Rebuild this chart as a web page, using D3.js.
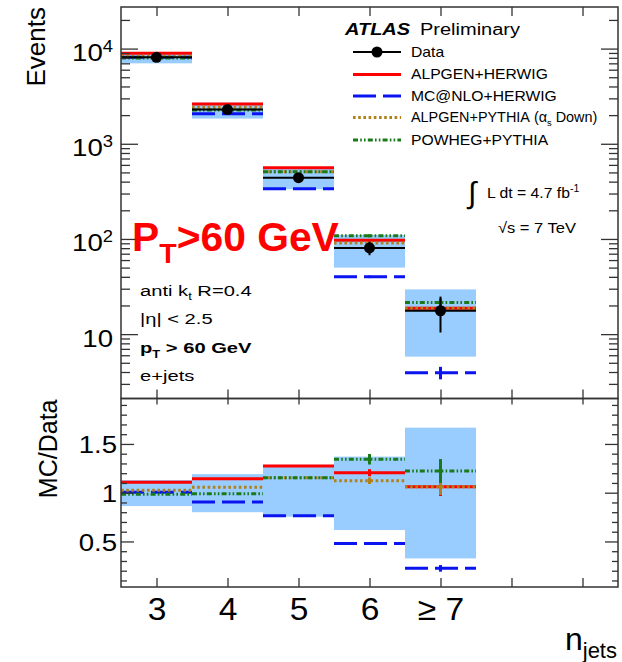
<!DOCTYPE html>
<html>
<head>
<meta charset="utf-8">
<script src="https://cdn.jsdelivr.net/npm/d3@7"></script>
<style>
  body { margin: 0; background: #fff; }
  text { font-family: "Liberation Sans", Arial, sans-serif; fill: #000; }
  .axis path { display: none; }
  .axis line { stroke: #333; stroke-width: 1.3; }
</style>
</head>
<body>
<script>
// ---- values ----
var nJets = [3, 4, 5, 6, 7];
var binLabels = ["3", "4", "5", "6", "\u2265 7"];
var xTicks = [3, 4, 5, 6, 7, 8, 9];

// upper panel: events per bin
var dataEvents = [8100, 2290, 440, 80.5, 17.6];
var dataErr = [90, 48, 21, 13, 7.2];
var systHi = [9150, 2700, 565, 110, 29.5];
var systLo = [7000, 1840, 333, 50, 5.8];
var alpgenHerwig = [8960, 2620, 561, 97, 18.7];
var mcatnloHerwig = [8130, 2070, 336, 40, 3.94];
var alpgenPythia = [8300, 2415, 508, 90.4, 18.7];
var powhegPythia = [7970, 2270, 508, 108, 21.5];

// lower panel: MC/Data
var ratioSystHi = [1.13, 1.19, 1.285, 1.37, 1.667];
var ratioSystLo = [0.863, 0.80, 0.754, 0.617, 0.326];
var ratioAlpgenHerwig = [1.106, 1.144, 1.274, 1.205, 1.062];
var ratioMcatnloHerwig = [1.004, 0.905, 0.764, 0.48, 0.224];
var ratioAlpgenPythia = [1.025, 1.055, 1.154, 1.123, 1.062];
var ratioPowhegPythia = [0.984, 0.99, 1.154, 1.343, 1.223];

// relative MC stat. errors (only visible in the last bins)
var errAlpgenHerwig = [0, 0, 0, 0.03, 0.09];
var errMcatnloHerwig = [0, 0, 0, 0.03, 0.15];
var errAlpgenPythia = [0, 0, 0, 0.03, 0.08];
var errPowhegPythia = [0, 0, 0, 0.04, 0.1];

// axis ticks
var upperMajor = [10, 100, 1000, 10000];
var upperMajorExp = [1, 2, 3, 4];
var upperMinor = [3, 4, 5, 6, 7, 8, 9, 20, 30, 40, 50, 60, 70, 80, 90,
  200, 300, 400, 500, 600, 700, 800, 900, 2000, 3000, 4000, 5000, 6000, 7000, 8000, 9000, 20000];
var lowerMajor = [0.5, 1, 1.5];
var lowerMajorLabels = ["0.5", "1", "1.5"];
var lowerMinor = [0.1, 0.2, 0.3, 0.4, 0.6, 0.7, 0.8, 0.9, 1.1, 1.2, 1.3, 1.4, 1.6, 1.7, 1.8, 1.9];

// ---- layout ----
var svgWidth = 622;
var svgHeight = 662;
var frame = { left: 121, right: 618, top: 7, mid: 398.5, bottom: 587 };

var svg = d3.select("body")
  .append("svg")
  .attr("width", svgWidth)
  .attr("height", svgHeight);

var xScale = d3.scaleLinear().domain([2.5, 9.5]).range([frame.left, frame.right]);
var yUpper = d3.scaleLog().domain([2.107, 27350]).range([frame.mid, frame.top]);
var yLower = d3.scaleLinear().domain([0.033, 1.966]).range([frame.bottom, frame.mid]);

// stretch text horizontally around its anchor point
function stretch(sel, sx) {
  sel.each(function() {
    var t = d3.select(this);
    var x = +t.attr("x") || 0;
    var y = +t.attr("y") || 0;
    t.attr("transform", `translate(${x},${y}) scale(${sx},1) translate(${-x},${-y})`);
  });
}

var series = [
  { name: "ALPGEN+HERWIG", up: alpgenHerwig, ratio: ratioAlpgenHerwig, err: errAlpgenHerwig, color: "#ff0000", dash: null },
  { name: "MC@NLO+HERWIG", up: mcatnloHerwig, ratio: ratioMcatnloHerwig, err: errMcatnloHerwig, color: "#0a14f0", dash: "23,7" },
  { name: "ALPGEN+PYTHIA", up: alpgenPythia, ratio: ratioAlpgenPythia, err: errAlpgenPythia, color: "#b0801a", dash: "2.6,2.6" },
  { name: "POWHEG+PYTHIA", up: powhegPythia, ratio: ratioPowhegPythia, err: errPowhegPythia, color: "#1a7a1a", dash: "5,2.2,1.6,2.2,1.6,2.2" }
];

var bins = nJets.map(function(n, i) { return { n: n, i: i }; });

// ---- upper panel ----
var upper = svg.append("g");

upper.selectAll("rect.syst")
  .data(bins)
  .enter()
  .append("rect")
  .attr("x", d => xScale(d.n - 0.5))
  .attr("width", d => xScale(d.n + 0.5) - xScale(d.n - 0.5))
  .attr("y", d => yUpper(systHi[d.i]))
  .attr("height", d => yUpper(systLo[d.i]) - yUpper(systHi[d.i]))
  .attr("fill", "#99ccff");

series.forEach(function(s) {
  upper.selectAll(null)
    .data(bins)
    .enter()
    .append("line")
    .attr("x1", d => xScale(d.n - 0.5))
    .attr("x2", d => xScale(d.n + 0.5))
    .attr("y1", d => yUpper(s.up[d.i]))
    .attr("y2", d => yUpper(s.up[d.i]))
    .attr("stroke", s.color)
    .attr("stroke-width", 3)
    .attr("stroke-dasharray", s.dash);
  upper.selectAll(null)
    .data(bins.filter(d => s.err[d.i] > 0))
    .enter()
    .append("line")
    .attr("x1", d => xScale(d.n))
    .attr("x2", d => xScale(d.n))
    .attr("y1", d => yUpper(s.up[d.i] * (1 + s.err[d.i])))
    .attr("y2", d => yUpper(s.up[d.i] * (1 - s.err[d.i])))
    .attr("stroke", s.color)
    .attr("stroke-width", 3);
});

// data: line across bin, error bar, marker
upper.selectAll("line.dataLine")
  .data(bins)
  .enter()
  .append("line")
  .attr("x1", d => xScale(d.n - 0.5))
  .attr("x2", d => xScale(d.n + 0.5))
  .attr("y1", d => yUpper(dataEvents[d.i]))
  .attr("y2", d => yUpper(dataEvents[d.i]))
  .attr("stroke", "#000")
  .attr("stroke-width", 2);
upper.selectAll("line.dataErr")
  .data(bins)
  .enter()
  .append("line")
  .attr("x1", d => xScale(d.n))
  .attr("x2", d => xScale(d.n))
  .attr("y1", d => yUpper(dataEvents[d.i] + dataErr[d.i]))
  .attr("y2", d => yUpper(dataEvents[d.i] - dataErr[d.i]))
  .attr("stroke", "#000")
  .attr("stroke-width", 2);
upper.selectAll("circle")
  .data(bins)
  .enter()
  .append("circle")
  .attr("cx", d => xScale(d.n))
  .attr("cy", d => yUpper(dataEvents[d.i]))
  .attr("r", 5.5)
  .attr("fill", "#000");

// ---- lower panel ----
var lower = svg.append("g");

lower.selectAll("rect")
  .data(bins)
  .enter()
  .append("rect")
  .attr("x", d => xScale(d.n - 0.5))
  .attr("width", d => xScale(d.n + 0.5) - xScale(d.n - 0.5))
  .attr("y", d => yLower(ratioSystHi[d.i]))
  .attr("height", d => yLower(ratioSystLo[d.i]) - yLower(ratioSystHi[d.i]))
  .attr("fill", "#99ccff");

series.forEach(function(s) {
  lower.selectAll(null)
    .data(bins)
    .enter()
    .append("line")
    .attr("x1", d => xScale(d.n - 0.5))
    .attr("x2", d => xScale(d.n + 0.5))
    .attr("y1", d => yLower(s.ratio[d.i]))
    .attr("y2", d => yLower(s.ratio[d.i]))
    .attr("stroke", s.color)
    .attr("stroke-width", 3)
    .attr("stroke-dasharray", s.dash);
  lower.selectAll(null)
    .data(bins.filter(d => s.err[d.i] > 0))
    .enter()
    .append("line")
    .attr("x1", d => xScale(d.n))
    .attr("x2", d => xScale(d.n))
    .attr("y1", d => yLower(s.ratio[d.i] * (1 + s.err[d.i])))
    .attr("y2", d => yLower(s.ratio[d.i] * (1 - s.err[d.i])))
    .attr("stroke", s.color)
    .attr("stroke-width", 3);
});

// ---- axes (ROOT style, ticks inside on all four sides) ----
function addAxis(axis, tx, ty) {
  return svg.append("g")
    .attr("class", "axis")
    .attr("transform", `translate(${tx},${ty})`)
    .call(axis);
}

// upper y
addAxis(d3.axisLeft(yUpper).tickValues(upperMajor).tickSize(-17).tickFormat(""), frame.left, 0);
addAxis(d3.axisLeft(yUpper).tickValues(upperMinor).tickSize(-9).tickFormat(""), frame.left, 0);
addAxis(d3.axisRight(yUpper).tickValues(upperMajor).tickSize(-17).tickFormat(""), frame.right, 0);
addAxis(d3.axisRight(yUpper).tickValues(upperMinor).tickSize(-9).tickFormat(""), frame.right, 0);
// upper x
addAxis(d3.axisTop(xScale).tickValues(xTicks).tickSize(-9).tickFormat(""), 0, frame.top);
addAxis(d3.axisBottom(xScale).tickValues(xTicks).tickSize(-9).tickFormat(""), 0, frame.mid);

// lower y
var lowerLeft = addAxis(d3.axisLeft(yLower).tickValues(lowerMajor).tickSize(-13).tickPadding(4)
  .tickFormat((d, i) => lowerMajorLabels[i]), frame.left, 0);
addAxis(d3.axisLeft(yLower).tickValues(lowerMinor).tickSize(-6).tickFormat(""), frame.left, 0);
addAxis(d3.axisRight(yLower).tickValues(lowerMajor).tickSize(-13).tickFormat(""), frame.right, 0);
addAxis(d3.axisRight(yLower).tickValues(lowerMinor).tickSize(-6).tickFormat(""), frame.right, 0);
// lower x
addAxis(d3.axisTop(xScale).tickValues(xTicks).tickSize(-6).tickFormat(""), 0, frame.mid);
var lowerBottom = addAxis(d3.axisBottom(xScale).tickValues(xTicks).tickSize(-9).tickPadding(10)
  .tickFormat(d => d <= 7 ? binLabels[d - 3] : ""), 0, frame.bottom);

lowerLeft.selectAll("text")
  .attr("font-size", 24)
  .attr("dy", "0.37em")
  .attr("fill", "#111");
stretch(lowerLeft.selectAll("text"), 1.15);
lowerBottom.selectAll("text")
  .attr("font-size", 32)
  .attr("fill", "#111");
stretch(lowerBottom.selectAll("text"), 1.05);

// upper y tick labels with exponents
var upLabels = svg.append("g");
upperMajor.forEach(function(v, i) {
  var t = upLabels.append("text")
    .attr("x", 113)
    .attr("y", yUpper(v) + 12.5)
    .attr("text-anchor", "end")
    .attr("font-size", 24)
    .attr("fill", "#111");
  t.append("tspan").text("10");
  if (upperMajorExp[i] > 1) {
    t.append("tspan").attr("font-size", 16).attr("dy", -9).text(upperMajorExp[i]);
  }
});
stretch(upLabels.selectAll("text"), 1.15);

// frames
svg.append("rect")
  .attr("x", frame.left).attr("y", frame.top)
  .attr("width", frame.right - frame.left).attr("height", frame.mid - frame.top)
  .attr("fill", "none").attr("stroke", "#333").attr("stroke-width", 1.5);
svg.append("rect")
  .attr("x", frame.left).attr("y", frame.mid)
  .attr("width", frame.right - frame.left).attr("height", frame.bottom - frame.mid)
  .attr("fill", "none").attr("stroke", "#333").attr("stroke-width", 1.5);

// axis titles
svg.append("text")
  .attr("transform", `translate(45,${frame.top}) rotate(-90)`)
  .attr("text-anchor", "end")
  .attr("font-size", 26)
  .attr("fill", "#111")
  .text("Events");
svg.append("text")
  .attr("transform", `translate(57,${frame.mid + 1}) rotate(-90)`)
  .attr("text-anchor", "end")
  .attr("font-size", 25)
  .attr("fill", "#111")
  .text("MC/Data");

var xTitle = svg.append("text")
  .attr("x", 617)
  .attr("y", 650)
  .attr("text-anchor", "end")
  .attr("font-size", 32)
  .attr("fill", "#111");
xTitle.append("tspan").text("n");
xTitle.append("tspan").attr("font-size", 22).attr("dy", 8).text("jets");

// ---- legend ----
var atlas = svg.append("g");
atlas.append("text")
  .attr("x", 345).attr("y", 35)
  .attr("font-size", 16)
  .attr("font-weight", "bold")
  .attr("font-style", "italic")
  .text("ATLAS");
atlas.append("text")
  .attr("x", 420).attr("y", 35)
  .attr("font-size", 16)
  .text("Preliminary");
stretch(atlas.selectAll("text"), 1.25);

var legendRows = [52, 74.5, 96, 117.5, 140];
var legend = svg.append("g");
legend.append("line")
  .attr("x1", 353).attr("x2", 401)
  .attr("y1", legendRows[0]).attr("y2", legendRows[0])
  .attr("stroke", "#000").attr("stroke-width", 2);
legend.append("circle")
  .attr("cx", 377).attr("cy", legendRows[0]).attr("r", 5.5).attr("fill", "#000");
series.forEach(function(s, i) {
  legend.append("line")
    .attr("x1", 353).attr("x2", 401)
    .attr("y1", legendRows[i + 1]).attr("y2", legendRows[i + 1])
    .attr("stroke", s.color)
    .attr("stroke-width", 3)
    .attr("stroke-dasharray", s.dash);
});
var legendText = svg.append("g");
["Data"].concat(series.map(s => s.name)).forEach(function(name, i) {
  var t = legendText.append("text")
    .attr("x", 411)
    .attr("y", legendRows[i] + 5)
    .attr("font-size", 14)
    .text(name);
  if (i === 3) {
    t.append("tspan").text(" (\u03b1");
    t.append("tspan").attr("font-size", 9).attr("dy", 4).text("s");
    t.append("tspan").attr("dy", -4).text(" Down)");
  }
  stretch(t, i === 3 ? 1.03 : 1.12);
});

// luminosity and energy
svg.append("text")
  .attr("x", 468).attr("y", 203)
  .attr("font-family", "DejaVu Serif")
  .attr("font-size", 30)
  .text("\u222b");
var lumi = svg.append("text")
  .attr("x", 487).attr("y", 198)
  .attr("font-size", 15);
lumi.append("tspan").text("L dt = 4.7 fb");
lumi.append("tspan").attr("font-size", 10).attr("dy", -6).text("-1");
stretch(lumi, 1.05);
var energy = svg.append("text")
  .attr("x", 498).attr("y", 233)
  .attr("font-size", 15)
  .text("\u221as = 7 TeV");
stretch(energy, 1.1);

// selection labels
var sel = svg.append("g");
var selRows = [296, 324.5, 353, 381];
var s0 = sel.append("text").attr("x", 140).attr("y", selRows[0]).attr("font-size", 15.5);
s0.append("tspan").text("anti k");
s0.append("tspan").attr("font-size", 10).attr("dy", 4).text("t");
s0.append("tspan").attr("dy", -4).text(" R=0.4");
sel.append("text").attr("x", 140).attr("y", selRows[1]).attr("font-size", 15.5)
  .text("|\u03b7| < 2.5");
var s2 = sel.append("text").attr("x", 140).attr("y", selRows[2]).attr("font-size", 15.5)
  .attr("font-weight", "bold");
s2.append("tspan").text("p");
s2.append("tspan").attr("font-size", 10).attr("dy", 5).text("T");
s2.append("tspan").attr("dy", -5).text(" > 60 GeV");
sel.append("text").attr("x", 140).attr("y", selRows[3]).attr("font-size", 15.5)
  .text("e+jets");
stretch(sel.selectAll("text"), 1.3);

// big red cut label
var red = svg.append("text")
  .attr("x", 132).attr("y", 251)
  .attr("font-family", "'Open Sans', sans-serif")
  .attr("font-weight", "bold")
  .attr("font-size", 40)
  .style("fill", "#ff0000");
red.append("tspan").text("P");
red.append("tspan").attr("font-size", 28).attr("dy", 12).text("T");
red.append("tspan").attr("dy", -12).text(">60 GeV");
stretch(red, 1.02);
</script>
</body>
</html>
